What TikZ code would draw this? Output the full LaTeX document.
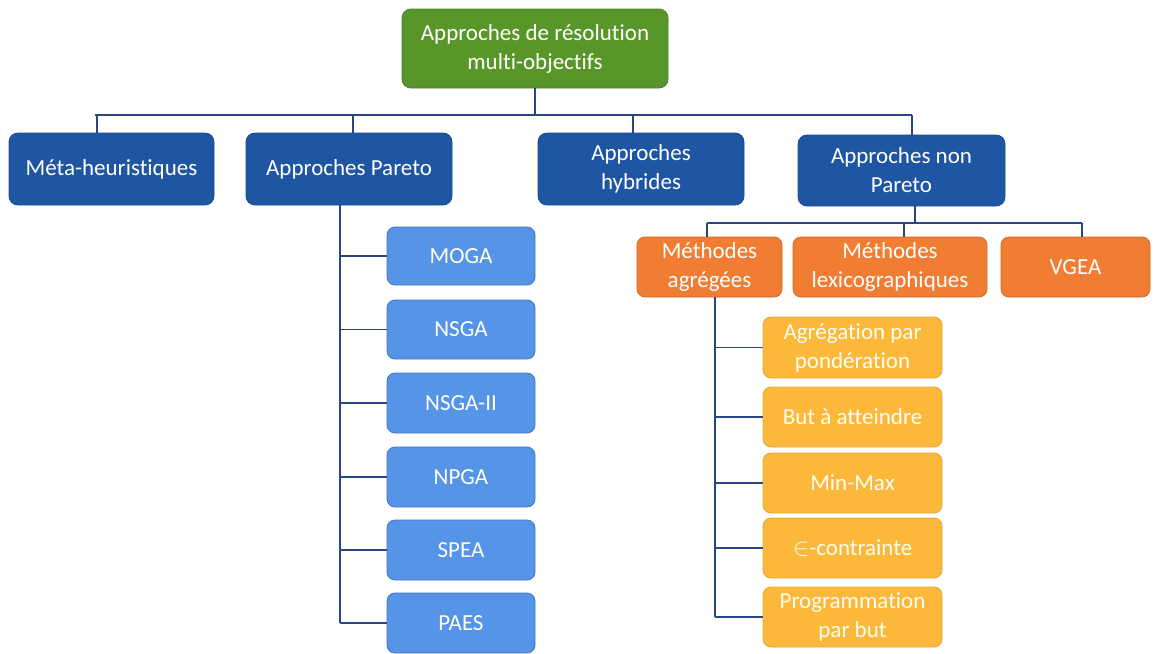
\documentclass[tikz,border=0pt]{standalone}
\usepackage{fontspec}
\setmainfont{Carlito}[Ligatures=NoCommon]
\begin{document}
\definecolor{rootgreen}{RGB}{88,150,42}
\definecolor{darkblue}{RGB}{30,86,164}
\definecolor{lightblue}{RGB}{86,148,232}
\definecolor{orangebox}{RGB}{240,125,50}
\definecolor{yellowbox}{RGB}{251,184,58}
\definecolor{linkblue}{RGB}{40,70,130}
\begin{tikzpicture}[x=1pt,y=-1pt,
  box/.style={rectangle, rounded corners=9pt, align=center, text=white,
    font=\fontsize{23}{29}\selectfont, inner sep=2pt, line width=0.8pt},
  rootbox/.style={box, fill=rootgreen, draw=rootgreen!85!black},
  mainbox/.style={box, fill=darkblue, draw=darkblue!85!black},
  algobox/.style={box, fill=lightblue, draw=lightblue!80!black, rounded corners=8pt},
  methbox/.style={box, fill=orangebox, draw=orangebox!85!black, rounded corners=8pt},
  subbox/.style={box, fill=yellowbox, draw=yellowbox!90!black, text=white!95!yellow, rounded corners=8pt},
  link/.style={draw=linkblue, line width=1.3pt}]
\useasboundingbox (0,0) rectangle (1161,653);

% root
\node[rootbox, minimum width=266, minimum height=79] (root) at (535,48.5)
  {Approches de résolution\\multi-objectifs};

% first level
\node[mainbox, minimum width=205, minimum height=72] (meta) at (111.5,169) {Méta-heuristiques};
\node[mainbox, minimum width=206, minimum height=72] (pareto) at (349,169) {Approches Pareto};
\node[mainbox, minimum width=206, minimum height=72] (hybr) at (641,169) {Approches\\hybrides};
\node[mainbox, minimum width=207, minimum height=71] (nonp) at (901.5,170.5) {Approches non\\Pareto};

% non-Pareto methods
\node[methbox, minimum width=145, minimum height=60] (agr) at (709.5,267) {Méthodes\\agrégées};
\node[methbox, minimum width=194, minimum height=60] (lex) at (890,267) {Méthodes\\lexicographiques};
\node[methbox, minimum width=149, minimum height=60] (vgea) at (1075.5,267) {VGEA};

% aggregation methods
\node[subbox, minimum width=179, minimum height=61] (pond) at (852.5,347.5) {Agrégation par\\pondération};
\node[subbox, minimum width=179, minimum height=60] (but) at (852.5,417) {But à atteindre};
\node[subbox, minimum width=179, minimum height=60] (minmax) at (852.5,483) {Min-Max};
\node[subbox, minimum width=179, minimum height=60] (eps) at (852.5,548) {$\in$-contrainte};
\node[subbox, minimum width=179, minimum height=60] (prog) at (852.5,617) {Programmation\\par but};

% Pareto algorithms
\node[algobox, minimum width=148, minimum height=58] (moga) at (461,256) {MOGA};
\node[algobox, minimum width=148, minimum height=59] (nsga) at (461,329.5) {NSGA};
\node[algobox, minimum width=148, minimum height=60] (nsgaii) at (461,403) {NSGA-II};
\node[algobox, minimum width=148, minimum height=60] (npga) at (461,477) {NPGA};
\node[algobox, minimum width=148, minimum height=60] (spea) at (461,550) {SPEA};
\node[algobox, minimum width=148, minimum height=60] (paes) at (461,623) {PAES};

% top bus
\coordinate (busL) at (95,115);
\coordinate (busR) at (912,115);
\coordinate (d1) at (97,115);
\coordinate (d2) at (353,115);
\coordinate (d3) at (633,115);
\coordinate (d4) at (912,115);
\draw[link] (root.south) -- (root.south |- busL);
\draw[link] (busL) -- (busR);
\draw[link] (d1) -- (d1 |- meta.north);
\draw[link] (d2) -- (d2 |- pareto.north);
\draw[link] (d3) -- (d3 |- hybr.north);
\draw[link] (d4) -- (d4 |- nonp.north);

% bus under non-Pareto
\coordinate (n0) at (915,223);
\coordinate (m1) at (707,223);
\coordinate (m2) at (904,223);
\coordinate (m3) at (1082,223);
\draw[link] (n0 |- nonp.south) -- (n0);
\draw[link] (m1) -- (m3);
\draw[link] (m1) -- (m1 |- agr.north);
\draw[link] (m2) -- (m2 |- lex.north);
\draw[link] (m3) -- (m3 |- vgea.north);

% trunk under Pareto approaches
\coordinate (pt) at (340,205);
\draw[link] (pt |- pareto.south) -- (pt |- paes.west);
\foreach \n in {moga,nsga,nsgaii,npga,spea,paes}
  \draw[link] (pt |- \n.west) -- (\n.west);

% trunk under aggregation methods
\coordinate (at) at (715,297);
\draw[link] (at |- agr.south) -- (at |- prog.west);
\foreach \n in {pond,but,minmax,eps,prog}
  \draw[link] (at |- \n.west) -- (\n.west);
\end{tikzpicture}
\end{document}
